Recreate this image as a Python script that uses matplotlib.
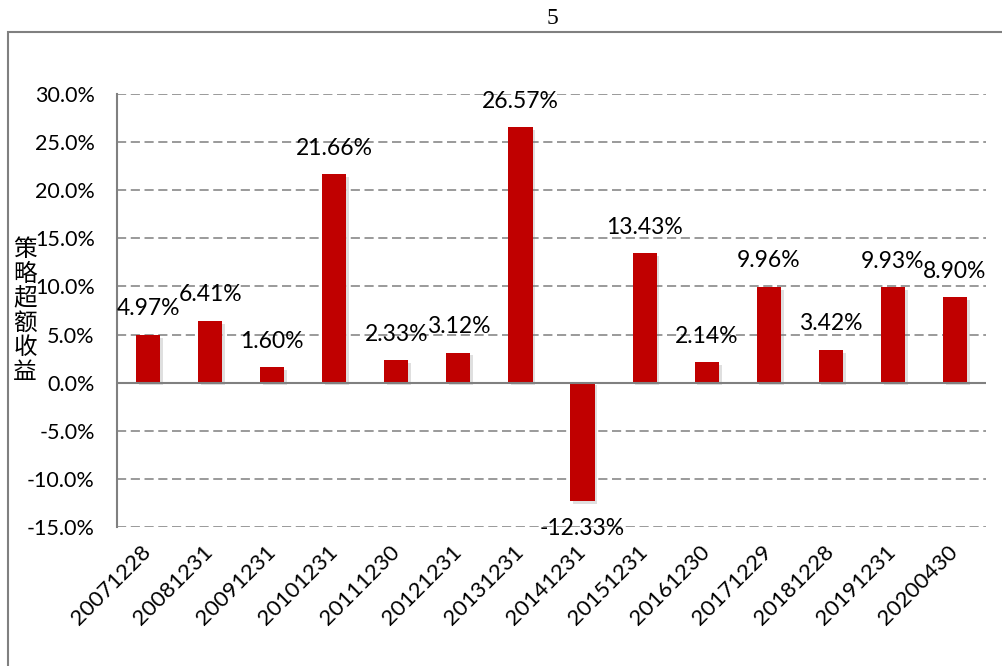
import matplotlib
matplotlib.use("Agg")
import matplotlib.pyplot as plt
import matplotlib.patheffects as pe
from matplotlib.patches import Rectangle
from matplotlib.ticker import FuncFormatter, MultipleLocator

categories = ["20071228", "20081231", "20091231", "20101231", "20111230", "20121231",
              "20131231", "20141231", "20151231", "20161230", "20171229", "20181228",
              "20191231", "20200430"]
values = [4.97, 6.41, 1.60, 21.66, 2.33, 3.12, 26.57, -12.33, 13.43, 2.14, 9.96, 3.42, 9.93, 8.90]
title = "5"
ylabel = "策略超额收益"

fig = plt.figure(figsize=(10.02, 6.66), dpi=100)
ax = fig.add_axes([117/1002, 1-527/666, (986-117)/1002, (527-94)/666])

x = list(range(len(categories)))
bars = ax.bar(x, values, width=0.39, color="#C00000", zorder=3)
for b in bars:
    b.set_path_effects([pe.SimplePatchShadow(offset=(2, -2), shadow_rgbFace="gray", alpha=0.25), pe.Normal()])

for xi, v in zip(x, values):
    off = 26 if v >= 0 else -27
    ax.annotate(f"{v:.2f}%", (xi, v), xytext=(0, off), textcoords="offset pixels",
                ha="center", va="center", fontsize=16.5, family="Lato", zorder=5)

ax.set_xlim(-0.5, len(categories) - 0.5)
ax.set_ylim(-15, 30)
ax.yaxis.set_major_locator(MultipleLocator(5))
ax.yaxis.set_major_formatter(FuncFormatter(lambda v, p: f"{v:.1f}%"))
ax.grid(axis="y", color="#7f7f7f", linestyle=(0, (6, 3)), linewidth=1.1, zorder=0)
ax.axhline(0, color="#808080", linewidth=1.5, zorder=4)

for s in ["top", "right", "bottom"]:
    ax.spines[s].set_visible(False)
ax.spines["left"].set_color("#808080")
ax.spines["left"].set_linewidth(1.5)

ax.set_xticks(x)
ax.set_xticklabels(categories, rotation=45, ha="right", va="center", rotation_mode="anchor",
                   fontsize=16, family="Lato")
ax.tick_params(axis="x", length=0, pad=16)
ax.tick_params(axis="y", length=0, pad=16, labelsize=15.5)
for t in ax.get_yticklabels():
    t.set_family("Lato")

fig.text(552/1002, 1-18/666, title, ha="center", va="center", fontsize=17, family="Liberation Serif")
fig.text(25/1002, 1-311/666, "\n".join(ylabel), ha="center", va="center", fontsize=17,
         family="Noto Sans CJK SC", linespacing=1.08)

fig.patches.append(Rectangle((8/1002, -0.05), 1.2, (666-32)/666 + 0.05, transform=fig.transFigure,
                             fill=False, edgecolor="#808080", linewidth=1.5))

fig.savefig("out.png", dpi=100)
